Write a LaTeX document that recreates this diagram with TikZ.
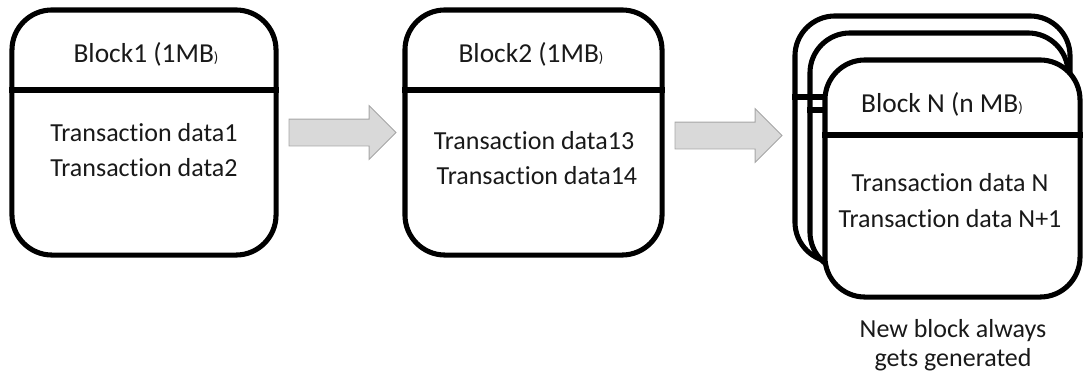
\documentclass[tikz,border=0pt]{standalone}
\usepackage{fontspec}
\setmainfont{Carlito}[Ligatures = NoCommon]
\usetikzlibrary{positioning, shapes}
\newcommand{\mbclose}{{\fontsize{10.5}{10.5}\selectfont)}}
\tikzset{
    blockframe/.style = {draw, line width = 3.6pt, rounded corners = 1cm, inner sep = 0pt},
    divider/.style = {line width = 3.6pt},
    flowarrow/.style = {single arrow, draw = black!35, fill = black!15, line width = 0.6pt, inner xsep = 0pt, inner ysep = 0.325cm, minimum height = 2.675cm, single arrow head extend = 0.3375cm},
    title/.style = {anchor = base, font = \fontsize{19.5}{25}\selectfont, text = black!90},
    body/.style = {align = center, font = \fontsize{18.5}{25.5}\selectfont, text = black!90},
    note/.style = {align = center, font = \fontsize{18.5}{21}\selectfont, text = black!90}
}

\begin{document}
\begin{tikzpicture}
        [
            x = 0.025cm, y = -0.025cm
        ]
        \useasboundingbox (0,0) rectangle (1088,376);
        % first two blocks
        \node[blockframe, minimum width = 6.6cm, minimum height = 6.125cm]   (block1) at (144,132.5) {};
        \node[blockframe, minimum width = 6.425cm, minimum height = 6.125cm] (block2) at (533.5,132.5) {};
        \draw[divider] (block1.west |- 0,90) -- (block1.east |- 0,90);
        \draw[divider] (block2.west |- 0,90) -- (block2.east |- 0,90);
        \node[title] (title1) at (146,62) {Block1 (1MB\mbclose};
        \node[title] (title2) at (531,62) {Block2 (1MB\mbclose};
        \node[body]  (data1)  at (144,150) {Transaction data1\\Transaction data2};
        \node[body]  (data2)  at (534,158) {Transaction data13\\\ Transaction data14};
        % stack of new blocks
        \node[blockframe, minimum width = 6.875cm, minimum height = 6.15cm]  (back)   at (932.5,139) {};
        \draw[divider] (back.west |- 0,97) -- (back.east |- 0,97);
        \node[blockframe, minimum width = 6.45cm, minimum height = 5.975cm]  (middle) at (939,152.5) {};
        \draw[divider] (middle.west |- 0,110) -- (middle.east |- 0,110);
        \node[blockframe, fill = white, minimum width = 6.375cm, minimum height = 5.925cm] (blockN) at (952.5,178.5) {};
        \draw[divider] (blockN.west |- 0,135) -- (blockN.east |- 0,135);
        \node[title] (titleN) at (942,112) {Block N (n MB\mbclose};
        \node[body]  (dataN)  at (950,200.5) {Transaction data N\\Transaction data N+1};
        \node[note]  (growth) at (953,345) {New block always\\gets generated};
        % arrows
        \node[flowarrow, right = 0.25cm of block1] (step1) {};
        \node[flowarrow, right = 0.25cm of block2, yshift = -0.075cm] (step2) {};
    \end{tikzpicture}
\end{document}
